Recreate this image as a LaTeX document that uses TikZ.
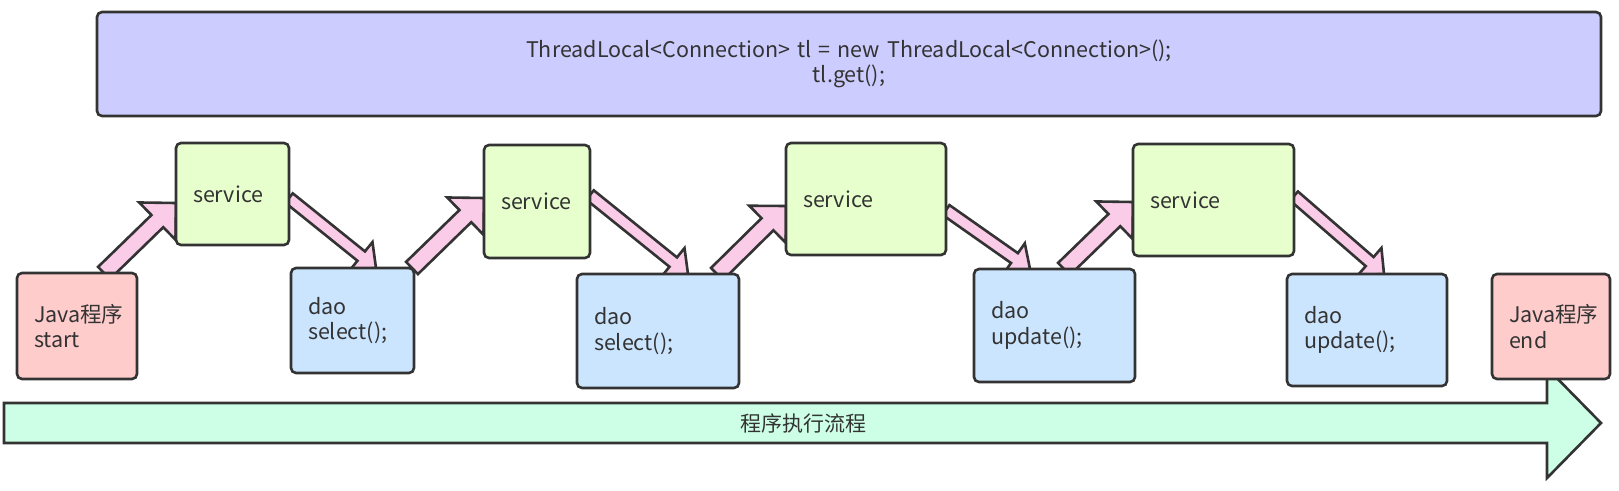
\documentclass[tikz,border=0pt]{standalone}
\usepackage{fontspec}
\setsansfont{Noto Sans CJK SC}
\usetikzlibrary{positioning, calc, backgrounds}

\definecolor{serviceGreen}{HTML}{E6FFCC}
\definecolor{daoBlue}{HTML}{CCE5FF}
\definecolor{flowGreen}{HTML}{CCFFE6}

\begin{document}
\begin{tikzpicture}[
    x=1pt, y=-1pt,
    font=\sffamily\fontsize{21.5}{25.5}\selectfont,
    every node/.style={align=left, text=black!80},
    box/.style={draw=black!80, line width=2.6pt, rounded corners=5pt,
        outer sep=0pt, inner xsep=17pt, inner ysep=0pt},
    pinkarrow/.style args={#1/#2/#3}{draw=black!80, line width=2.6pt,
        fill=magenta!20, line join=miter,
        to path={($(\tikztostart)!#1!-90:(\tikztotarget)$)
            -- ($(\tikztotarget)!#3!(\tikztostart)!#1!-90:(\tikztotarget)$)
            -- ($(\tikztotarget)!#3!(\tikztostart)!#2!-90:(\tikztotarget)$)
            -- (\tikztotarget)
            -- ($(\tikztotarget)!#3!(\tikztostart)!#2!90:(\tikztotarget)$)
            -- ($(\tikztotarget)!#3!(\tikztostart)!#1!90:(\tikztotarget)$)
            -- ($(\tikztostart)!#1!90:(\tikztotarget)$) -- cycle}},
    fatup/.style={pinkarrow=8.5pt/26pt/26pt},
    thindown/.style={pinkarrow=6pt/18pt/19pt}
]
\useasboundingbox (0,0) rectangle (1619,490);

%-------------------------------
% 1) Program flow arrow (bottom)
%-------------------------------
\draw[draw=black!80, line width=2.6pt, fill=flowGreen, line join=miter]
    (4,403) -- (1547,403) -- (1547,368) -- (1601,423)
    -- (1547,478) -- (1547,443) -- (4,443) -- cycle;
\node[font=\sffamily\fontsize{21}{24}\selectfont] (flowText) at (803,423) {程序执行流程};

%-------------------------------
% 2) ThreadLocal box (top)
%-------------------------------
\node[box, fill=blue!20, align=center, text width=1470pt, minimum height=104pt]
    (tlBox) at (849,64)
    {ThreadLocal<Connection> tl = new ThreadLocal<Connection>();\\tl.get();};

%-------------------------------
% 3) Java start / end
%-------------------------------
\node[box, fill=red!20, text width=86pt, minimum height=106pt]
    (javaStart) at (77,326) {Java程序\\start};

%-------------------------------
% 4) service / dao boxes
%-------------------------------
\node[box, fill=serviceGreen, text width=79pt, minimum height=102pt,
      right=39pt of javaStart, yshift=132pt] (serviceA) {service};
\node[box, fill=daoBlue, text width=89pt, minimum height=105pt,
      right=2pt of serviceA, yshift=-126.5pt] (daoA) {dao\\select();};

\node[box, fill=serviceGreen, text width=72pt, minimum height=113pt,
      right=195pt of serviceA, yshift=-7.5pt] (serviceB) {service};
\node[box, fill=daoBlue, text width=128pt, minimum height=114pt,
      right=163pt of daoA, yshift=-10.5pt] (daoB) {dao\\select();};

\node[box, fill=serviceGreen, text width=126pt, minimum height=112pt,
      right=196pt of serviceB, yshift=2.5pt] (serviceC) {service};
\node[box, fill=daoBlue, text width=127pt, minimum height=113pt,
      right=235pt of daoB, yshift=5.5pt] (daoC) {dao\\update();};

\node[box, fill=serviceGreen, text width=127pt, minimum height=112pt,
      right=187pt of serviceC, yshift=-1pt] (serviceD) {service};
\node[box, fill=daoBlue, text width=126pt, minimum height=112pt,
      right=152pt of daoC, yshift=-4.5pt] (daoD) {dao\\update();};

\node[box, fill=red!20, text width=84pt, minimum height=105pt,
      right=45pt of daoD, yshift=3.5pt] (javaEnd) {Java程序\\end};

%-------------------------------
% 5) Pink arrows (behind the boxes)
%-------------------------------
\begin{pgfonlayer}{background}
% up: dao -> service
\draw[fatup] ([xshift=27pt]javaStart.north) to ([yshift=-9pt]serviceA.west);
\draw[fatup] ([xshift=-2pt]daoA.north east) to ([yshift=3.5pt]serviceB.west);
\draw[fatup] ([xshift=-22pt]daoB.north east) to ([yshift=-7pt]serviceC.west);
\draw[fatup] ([xshift=9.5pt]daoC.north) to ([yshift=-2pt]serviceD.west);

% down: service -> dao
\draw[thindown] ([yshift=-4pt]serviceA.east) to ([xshift=23.5pt]daoA.north);
\draw[thindown] ([yshift=6.5pt]serviceB.east) to ([xshift=30pt]daoB.north);
\draw[thindown] ([yshift=-11pt]serviceC.east) to ([xshift=-24.5pt]daoC.north);
\draw[thindown] ([yshift=4pt]serviceD.east) to ([xshift=17pt]daoD.north);
\end{pgfonlayer}

\end{tikzpicture}
\end{document}
